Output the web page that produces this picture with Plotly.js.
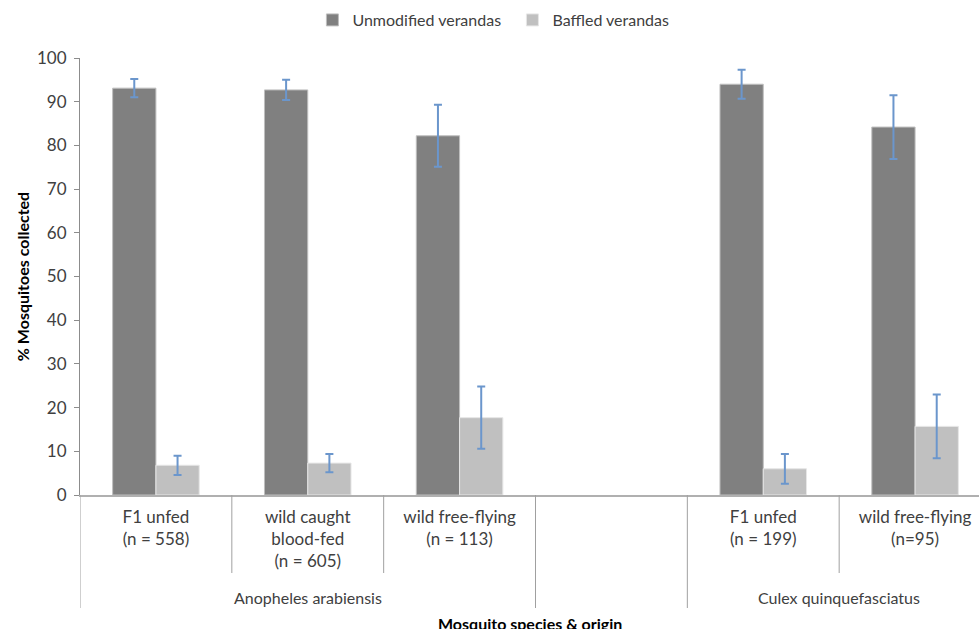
<!DOCTYPE html>
<html>
<head>
<meta charset="utf-8">
<script src="https://cdn.plot.ly/plotly-3.0.1.min.js"></script>
<style>html,body{margin:0;padding:0;background:#fff;}#chart{width:979px;height:629px;}</style>
</head>
<body>
<div id="chart"></div>
<script>
// ---- data ----
const categories = ['F1 unfed<br>(n = 558)', 'wild caught<br>blood-fed<br>(n = 605)', 'wild free-flying<br>(n = 113)', '', 'F1 unfed<br>(n = 199)', 'wild free-flying<br>(n=95)'];
const unmodified = [93.1, 92.7, 82.2, null, 94.0, 84.2];
const unmodifiedErr = [2.1, 2.3, 7.1, null, 3.3, 7.3];
const baffled = [6.8, 7.3, 17.7, null, 6.0, 15.7];
const baffledErr = [2.2, 2.1, 7.1, null, 3.4, 7.3];
const groupNames = ['Anopheles arabiensis', '', 'Culex quinquefasciatus'];
const groupStart = [0, 3, 4];
const groupEnd = [2, 3, 5];
const seriesNames = ['Unmodified verandas', 'Baffled verandas'];

const xIdx = categories.map((c, i) => i);
const FONT = 'Lato, "Open Sans", sans-serif';
const TXT = '#404040';
const errColor = '#6b96cc';

const traces = [
  {type: 'bar', name: seriesNames[0], x: xIdx, y: unmodified,
   marker: {color: '#808080', line: {color: '#bfbfbf', width: 1}},
   error_y: {type: 'data', array: unmodifiedErr, visible: true, color: errColor, thickness: 2, width: 4}},
  {type: 'bar', name: seriesNames[1], x: xIdx, y: baffled,
   marker: {color: '#c0c0c0', line: {color: '#e6e6e6', width: 1}},
   error_y: {type: 'data', array: baffledErr, visible: true, color: errColor, thickness: 2, width: 4}}
];

// plot area: x 80..991 (cut at 979), y 58..495
const plotH = 437;
const py = px => -(px - 495) / plotH; // pixel y -> paper y
const shapes = [];
const annotations = [];
// dividers
const full = new Set();
groupStart.forEach(s => full.add(s - 0.5));
groupEnd.forEach(e => full.add(e + 0.5));
for (let b = -0.5; b <= categories.length - 0.5; b += 1) {
  shapes.push({type: 'line', xref: 'x', yref: 'paper', x0: b, x1: b, y0: 0,
    y1: full.has(b) ? py(608) : py(573), line: {color: '#a0a0a0', width: 1}});
}
// group labels
groupNames.forEach((g, i) => {
  if (!g) return;
  annotations.push({xref: 'x', yref: 'paper', x: (groupStart[i] + groupEnd[i]) / 2, y: py(597),
    text: g, showarrow: false, yanchor: 'middle', font: {family: FONT, size: 16, color: TXT}});
});
// x axis title
annotations.push({xref: 'paper', yref: 'paper', x: 0.5, y: py(623), text: '<b>Mosquito species &amp; origin</b>',
  showarrow: false, yanchor: 'middle', font: {family: FONT, size: 16, color: '#000'}});

const catW = 911 / 6;
const layout = {
  width: 979, height: 629,
  margin: {l: 80, r: 0, t: 58, b: 134, pad: 0},
  paper_bgcolor: '#fff', plot_bgcolor: '#fff',
  font: {family: FONT, size: 16, color: TXT},
  barmode: 'group', bargap: 0.43, bargroupgap: 0,
  showlegend: true,
  legend: {orientation: 'h', x: 0.481, xanchor: 'center', y: 1 + 38 / plotH, yanchor: 'middle',
    font: {family: FONT, size: 16, color: TXT}, itemwidth: 30, entrywidth: 155, entrywidthmode: 'pixels',
    bgcolor: 'rgba(0,0,0,0)'},
  xaxis: {type: 'linear', range: [-0.5, -0.5 + 899 / catW], showgrid: false, zeroline: false,
    tickvals: xIdx, ticktext: categories, ticks: '', tickfont: {family: FONT, size: 17, color: TXT},
    ticklabelstandoff: 6,
    showline: true, linecolor: '#b0b0b0', linewidth: 1.5, fixedrange: true},
  yaxis: {range: [0, 100], dtick: 10, tick0: 0, showgrid: false, zeroline: false,
    ticks: 'outside', ticklen: 5, tickcolor: '#8c8c8c', showline: true, linecolor: '#8c8c8c', linewidth: 1,
    tickfont: {family: FONT, size: 17, color: TXT}, ticklabelstandoff: 4,
    title: {text: '<b>% Mosquitoes collected</b>', font: {family: FONT, size: 16, color: '#000'}, standoff: 3}},
  shapes: shapes,
  annotations: annotations
};

Plotly.newPlot('chart', traces, layout, {displayModeBar: false, staticPlot: true});
</script>
</body>
</html>
